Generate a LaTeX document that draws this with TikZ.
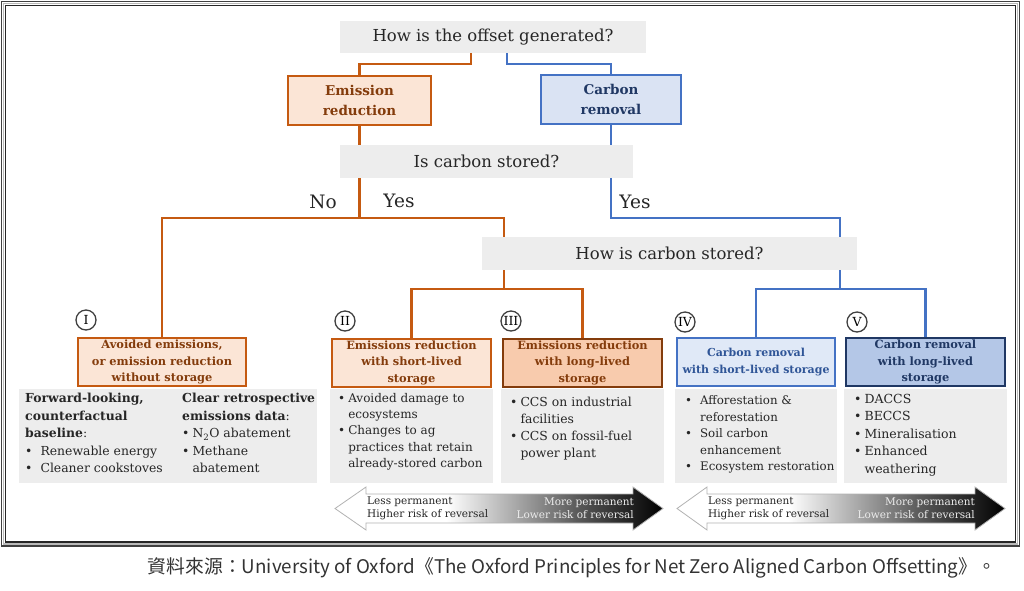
\documentclass[tikz,border=0pt]{standalone}
\usepackage{fontspec}
\setmainfont{DejaVu Serif}
\newfontfamily\cjk{Noto Sans CJK TC}
\definecolor{orangeL}{RGB}{197,90,17}
\definecolor{peach}{RGB}{251,229,214}
\definecolor{peachD}{RGB}{248,203,173}
\definecolor{brownD}{RGB}{132,60,12}
\definecolor{blueL}{RGB}{68,114,196}
\definecolor{blueF}{RGB}{218,227,243}
\definecolor{blueF4}{RGB}{224,233,247}
\definecolor{blueF5}{RGB}{180,199,231}
\definecolor{navy}{RGB}{32,56,100}
\definecolor{blueT}{RGB}{47,85,151}
\definecolor{qgray}{RGB}{237,237,237}
\pgfdeclarehorizontalshading{permshade}{100bp}{color(0bp)=(white); color(25bp)=(white); color(42bp)=(white); color(62bp)=(gray!70!black); color(75bp)=(black); color(100bp)=(black)}
\newcommand\fsz[2]{\fontsize{#1}{#2}\selectfont}
\begin{document}
\begin{tikzpicture}[x=1pt,y=-1pt,
  qbox/.style={fill=qgray, inner sep=0, font=\fsz{16.5}{20}, text=black!85},
  topO/.style={draw=orangeL, fill=peach, line width=2pt, inner sep=0, align=center, text=brownD, font=\bfseries\fsz{13.5}{20}},
  topB/.style={draw=blueL, fill=blueF, line width=2pt, inner sep=0, align=center, text=navy, font=\bfseries\fsz{13.5}{20}},
  catbox/.style={line width=2pt, inner sep=0, align=center, font=\bfseries\fsz{11.4}{16.5}},
  conO/.style={draw=orangeL, line width=2.4pt},
  conB/.style={draw=blueL, line width=2.4pt},
  numc/.style={circle, draw=black!75, line width=1.3pt, minimum size=20pt, inner sep=0, font=\fsz{12.5}{12.5}},
  detail/.style={fill=qgray, inner sep=0},
  dtext/.style={anchor=north west, inner sep=0, text=black!85},
  yn/.style={font=\fsz{18.5}{20}, text=black!85},
  arrtxt/.style={inner sep=0, font=\fsz{10.5}{13}, align=left}
]
\useasboundingbox (0,0) rectangle (1024,590);
% frame
\draw[line width=1.6pt, black!75] (1.5,1.5) rectangle (1019.5,546);
\draw[line width=1.4pt, gray!55] (3.5,3.5) rectangle (1017.5,544);
\draw[line width=1.2pt, black!85] (5.5,5.5) rectangle (1015.5,542);

% question boxes
\node[qbox, minimum width=306, minimum height=32] (q1) at (493,37) {How is the offset generated?};
\node[qbox, minimum width=293, minimum height=33] (q2) at (486.5,161.5) {Is carbon stored?};
\node[qbox, minimum width=375, minimum height=33] (q3) at (669.5,253.5) {How is carbon stored?};

% top category boxes
\node[topO, minimum width=143, minimum height=49] (er) at (359.5,100) {Emission\\reduction};
\node[topB, minimum width=140, minimum height=49] (cr) at (611,99.5) {Carbon\\removal};

% detail boxes
\node[detail, minimum width=298, minimum height=94] (d1) at (168,436) {};
\node[detail, minimum width=163, minimum height=94] (d2) at (411.5,436) {};
\node[detail, minimum width=163, minimum height=94] (d3) at (582.5,436) {};
\node[detail, minimum width=162, minimum height=94] (d4) at (756,436) {};
\node[detail, minimum width=163, minimum height=94] (d5) at (925.5,436) {};

% category boxes
\node[catbox, draw=orangeL, fill=peach, text=brownD, minimum width=168, minimum height=48] (b1) at (162,362) {Avoided emissions,\\or emission reduction\\without storage};
\node[catbox, draw=orangeL, fill=peach, text=brownD, minimum width=159, minimum height=48] (b2) at (411.5,362.5) {Emissions reduction\\with short-lived\\storage};
\node[catbox, draw=brownD, fill=peachD, text=brownD, minimum width=159, minimum height=48] (b3) at (582.5,362.5) {Emissions reduction\\with long-lived\\storage};
\node[catbox, draw=blueL, fill=blueF4, text=blueT, minimum width=158, minimum height=48, font=\bfseries\fsz{11}{16.5}] (b4) at (756,362) {Carbon removal\\with short-lived storage};
\node[catbox, draw=navy, fill=blueF5, text=navy, minimum width=159, minimum height=48] (b5) at (925.5,362) {Carbon removal\\with long-lived\\storage};

% numerals
\node[numc] (n1) at (86,320) {I};
\node[numc] (n2) at (345,321) {II};
\node[numc] (n3) at (511,321) {III};
\node[numc] (n4) at (685,322) {IV};
\node[numc] (n5) at (857,322) {V};

% connectors
\draw[conO] ([xshift=-22]q1.south) -- ++(0,11) -| (er.north);
\draw[conB] ([xshift=14]q1.south) -- ++(0,11) -| (cr.north);
\draw[conO] (er.south) -- (er.south |- q2.north);
\draw[conB] (cr.south) -- (cr.south |- q2.north);
\coordinate (oL) at ([xshift=22]q3.north west);
\coordinate (bR) at ([xshift=-17]q3.north east);
\draw[conO] (er.south |- q2.south) -- (er.south |- 0,218);
\draw[conO] (b1.north) |- (oL |- 0,218) -- (oL);
\draw[conB] (cr.south |- q2.south) |- (bR |- 0,218) -- (bR);
\draw[conO] (oL |- q3.south) -- (oL |- 0,289);
\draw[conO] (b2.north) -- (b2.north |- 0,289) -- (b3.north |- 0,289) -- (b3.north);
\draw[conB] (bR |- q3.south) -- (bR |- 0,289);
\draw[conB] (b4.north) -- (b4.north |- 0,289) -- (b5.north |- 0,289) -- (b5.north);

\node[yn] (no) at (323,202) {No};
\node[yn] (yes1) at (399,201) {Yes};
\node[yn] (yes2) at (635,202) {Yes};

% detail texts
\node[dtext, font=\fsz{12.4}{17.6}] (t1a) at (25,390) {\begin{tabular}{@{}l@{\hspace{8pt}}l@{}}
\multicolumn{2}{@{}l@{}}{\textbf{Forward-looking,}}\\
\multicolumn{2}{@{}l@{}}{\textbf{counterfactual}}\\
\multicolumn{2}{@{}l@{}}{\textbf{baseline}:}\\
\textbullet & Renewable energy\\
\textbullet & Cleaner cookstoves
\end{tabular}};
\node[dtext, font=\fsz{12.4}{17.6}] (t1b) at (182,390) {\begin{tabular}{@{}l@{\hspace{3pt}}l@{}}
\multicolumn{2}{@{}l@{}}{\textbf{Clear retrospective}}\\
\multicolumn{2}{@{}l@{}}{\textbf{emissions data}:}\\
\textbullet & N\textsubscript{2}O abatement\\
\textbullet & Methane\\
 & abatement
\end{tabular}};
\node[dtext, font=\fsz{12}{16.2}] (t2) at (338,391) {\begin{tabular}{@{}l@{\hspace{3pt}}l@{}}
\textbullet & Avoided damage to\\
 & ecosystems\\
\textbullet & Changes to ag\\
 & practices that retain\\
 & already-stored carbon
\end{tabular}};
\node[dtext, font=\fsz{12.4}{17}] (t3) at (510,394) {\begin{tabular}{@{}l@{\hspace{3pt}}l@{}}
\textbullet & CCS on industrial\\
 & facilities\\
\textbullet & CCS on fossil-fuel\\
 & power plant
\end{tabular}};
\node[dtext, font=\fsz{11.8}{16.5}] (t4) at (685,393) {\begin{tabular}{@{}l@{\hspace{8pt}}l@{}}
\textbullet & Afforestation \&\\
 & reforestation\\
\textbullet & Soil carbon\\
 & enhancement\\
\textbullet & Ecosystem restoration
\end{tabular}};
\node[dtext, font=\fsz{12.5}{17.5}] (t5) at (854,391) {\begin{tabular}{@{}l@{\hspace{3pt}}l@{}}
\textbullet & DACCS\\
\textbullet & BECCS\\
\textbullet & Mineralisation\\
\textbullet & Enhanced\\
 & weathering
\end{tabular}};

% permanence arrows
\shadedraw[shading=permshade, draw=gray!60, line width=0.8pt]
  (335,508.5) -- (366,487) -- (366,494) -- (633,494) -- (633,487) -- (663,508.5)
  -- (633,530) -- (633,523) -- (366,523) -- (366,530) -- cycle;
\shadedraw[shading=permshade, draw=gray!60, line width=0.8pt]
  (677,508.5) -- (707,487) -- (707,494) -- (975,494) -- (975,487) -- (1005,508.5)
  -- (975,530) -- (975,523) -- (707,523) -- (707,530) -- cycle;
\node[arrtxt, anchor=west, text=black!85] (a1l) at (367,508.5) {Less permanent\\Higher risk of reversal};
\node[arrtxt, anchor=east, align=right, text=gray!15] (a1r) at (634,508.5) {More permanent\\Lower risk of reversal};
\node[arrtxt, anchor=west, text=black!85] (a2l) at (708,508.5) {Less permanent\\Higher risk of reversal};
\node[arrtxt, anchor=east, align=right, text=gray!15] (a2r) at (975,508.5) {More permanent\\Lower risk of reversal};

% caption
\node[font=\cjk\fsz{18.8}{20}, text=black!80, inner sep=0] (cap) at (572,568) {資料來源：University of Oxford《The Oxford Principles for Net Zero Aligned Carbon Offsetting》。};
\end{tikzpicture}
\end{document}
